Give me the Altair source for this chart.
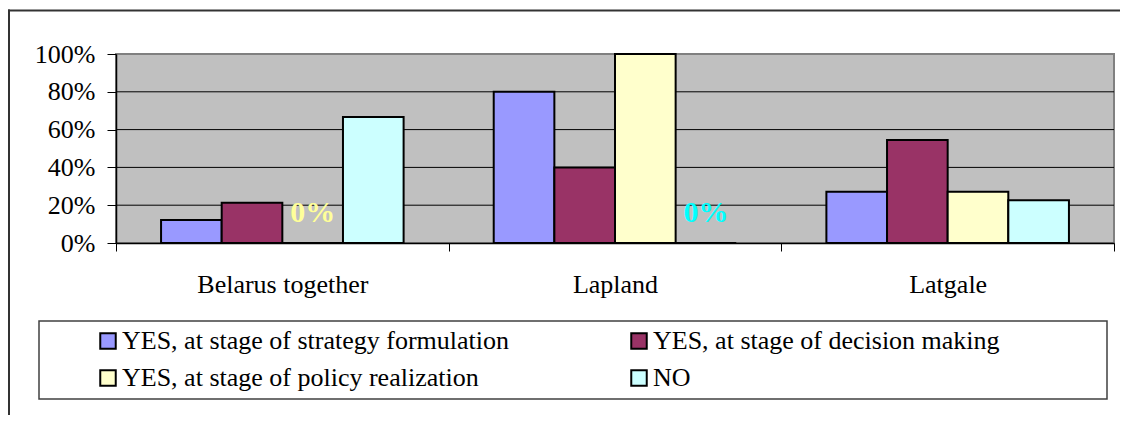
import altair as alt
import pandas as pd

categories = ["Belarus together", "Lapland", "Latgale"]
series = [
    "YES, at stage of strategy formulation",
    "YES, at stage of decision making",
    "YES, at stage of policy realization",
    "NO",
]
strategy_formulation = [0.122, 0.80, 0.271]
decision_making = [0.213, 0.40, 0.545]
policy_realization = [0.0, 1.0, 0.271]
no_answer = [0.667, 0.0, 0.226]
bar_colors = ["#9999FF", "#993366", "#FFFFCC", "#CCFFFF"]
y_ticks = [0, 0.2, 0.4, 0.6, 0.8, 1.0]
grid_levels = [0.2, 0.4, 0.6, 0.8]

rows = []
for s, vals in zip(series, [strategy_formulation, decision_making, policy_realization, no_answer]):
    for c, v in zip(categories, vals):
        rows.append({"category": c, "series": s, "value": v})
df = pd.DataFrame(rows)
grid_df = pd.DataFrame({"value": grid_levels})

FONT = "Liberation Serif"

x_enc = alt.X(
    "category:N",
    sort=categories,
    scale=alt.Scale(paddingInner=0, paddingOuter=0),
    axis=alt.Axis(
        title=None, tickBand="extent", labelAngle=0, grid=False, labelOverlap=False,
        domainColor="black", domainWidth=1.5, tickColor="black", tickWidth=1,
        tickSize=8, labelPadding=20, labelFont=FONT, labelFontSize=26,
        labelColor="black",
    ),
)
xoff_enc = alt.XOffset("series:N", sort=series,
                       scale=alt.Scale(paddingInner=0, paddingOuter=0.743))
y_enc = alt.Y(
    "value:Q",
    scale=alt.Scale(domain=[0, 1], nice=False),
    axis=alt.Axis(
        title=None, values=y_ticks, format=".0%", labelOverlap=False, grid=False,
        domainColor="black", domainWidth=1.5, tickColor="black", tickWidth=1,
        tickSize=9, labelPadding=12, labelFont=FONT, labelFontSize=26,
        labelColor="black",
    ),
)

grid = alt.Chart(grid_df).mark_rule(color="black", strokeWidth=1).encode(
    y=y_enc
)

bars = alt.Chart(df).mark_bar(stroke="black", strokeWidth=2).encode(
    x=x_enc,
    xOffset=xoff_enc,
    y=y_enc,
    fill=alt.Fill(
        "series:N",
        scale=alt.Scale(domain=series, range=bar_colors),
        legend=alt.Legend(
            title=None, orient="none", legendX=-21, legendY=274,
            direction="horizontal",
            columns=2, gridAlign="all", columnPadding=116, rowPadding=11,
            symbolType="square", symbolSize=240, symbolStrokeColor="black",
            symbolStrokeWidth=2, labelFont=FONT, labelFontSize=26,
            labelColor="black", labelOffset=1, labelLimit=0, padding=0,
        ),
    ),
)

zero_labels = alt.Chart(df).transform_filter("datum.value == 0").mark_text(
    font=FONT, fontSize=30, fontWeight="bold", baseline="alphabetic", dy=-21
).encode(
    x=x_enc,
    xOffset=xoff_enc,
    y=y_enc,
    text=alt.Text("value:Q", format=".0%"),
    color=alt.condition("datum.series == 'NO'", alt.value("#00FFFF"), alt.value("#FFFF99")),
)

frame_df = pd.DataFrame({"k": [0]})
legend_box = alt.Chart(frame_df).mark_rect(
    fillOpacity=0, stroke="#404040", strokeWidth=1.5
).encode(
    x=alt.value(-77), x2=alt.value(991), y=alt.value(267), y2=alt.value(345)
)
outer_top = alt.Chart(frame_df).mark_rule(color="#333333", strokeWidth=2).encode(
    x=alt.value(-108), x2=alt.value(1004), y=alt.value(-43.5)
)
outer_left = alt.Chart(frame_df).mark_rule(color="#333333", strokeWidth=2).encode(
    x=alt.value(-107), y=alt.value(-44.5), y2=alt.value(420)
)

chart = alt.layer(grid, outer_top, outer_left, bars, zero_labels, legend_box).properties(
    width=998,
    height=189,
    autosize=alt.AutoSizeParams(type="none"),
    padding={"left": 108, "top": 46, "right": 6, "bottom": 172},
    background="white",
).configure_view(
    fill="#C0C0C0", stroke="#808080", strokeWidth=2
)

chart.save("out.html", embed_options={"renderer": "svg", "actions": False})
